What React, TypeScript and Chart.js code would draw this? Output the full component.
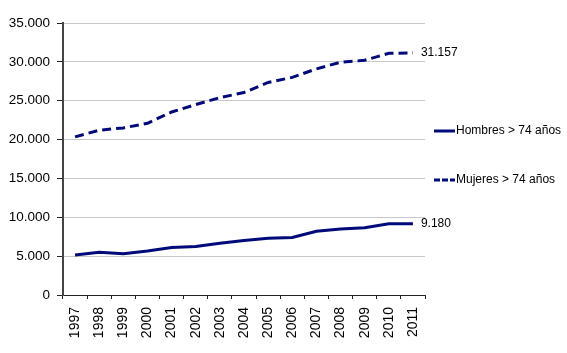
import React, { useEffect, useRef } from "react";
import { Chart, registerables } from "chart.js";

Chart.register(...registerables);

const years = ["1997", "1998", "1999", "2000", "2001", "2002", "2003", "2004", "2005", "2006", "2007", "2008", "2009", "2010", "2011"];
const hombres = [5150, 5500, 5300, 5650, 6100, 6250, 6650, 7000, 7300, 7400, 8200, 8500, 8650, 9180, 9180];
const mujeres = [20350, 21200, 21500, 22100, 23550, 24500, 25400, 26050, 27350, 28000, 29100, 29950, 30200, 31100, 31157];
const seriesNames = ["Hombres > 74 años", "Mujeres > 74 años"];
const yMin = 0;
const yMax = 35000;
const yStep = 5000;

const LINE_COLOR = "#000a78";
const FONT = "'Liberation Sans', Arial, sans-serif";

function fmt(v: number): string {
  const s = Math.round(v).toString();
  return s.replace(/\B(?=(\d{3})+(?!\d))/g, ".");
}

const overlayPlugin = {
  id: "overlay",
  afterDraw(chart: any) {
    const ctx = chart.ctx;
    const xs = chart.scales.x;
    const ys = chart.scales.y;
    const area = chart.chartArea;
    ctx.save();
    ctx.font = `12px ${FONT}`;
    ctx.fillStyle = "#000";
    ctx.textBaseline = "middle";
    ctx.textAlign = "left";
    // end labels
    const last = years.length - 1;
    const xl = xs.getPixelForValue(last);
    ctx.fillText(fmt(mujeres[last]), xl + 8, ys.getPixelForValue(mujeres[last]));
    ctx.fillText(fmt(hombres[last]), xl + 8, ys.getPixelForValue(hombres[last]));
    // legend
    const lx = area.right + 9;
    const items = [
      { name: seriesNames[0], y: 131, dash: [] as number[] },
      { name: seriesNames[1], y: 180, dash: [6, 2] },
    ];
    for (const it of items) {
      ctx.strokeStyle = LINE_COLOR;
      ctx.lineWidth = 3;
      ctx.setLineDash(it.dash);
      ctx.beginPath();
      ctx.moveTo(lx, it.y);
      ctx.lineTo(lx + 21, it.y);
      ctx.stroke();
      ctx.setLineDash([]);
      ctx.fillText(it.name, lx + 22, it.y);
    }
    ctx.restore();
  },
};

export default function App() {
  const ref = useRef<HTMLCanvasElement | null>(null);
  useEffect(() => {
    if (!ref.current) return;
    const chart = new Chart(ref.current, {
      type: "line",
      data: {
        labels: years,
        datasets: [
          {
            label: seriesNames[0],
            data: hombres,
            borderColor: LINE_COLOR,
            borderWidth: 3,
            pointRadius: 0,
            tension: 0,
          },
          {
            label: seriesNames[1],
            data: mujeres,
            borderColor: LINE_COLOR,
            borderWidth: 3,
            borderDash: [9, 5],
            pointRadius: 0,
            tension: 0,
          },
        ],
      },
      options: {
        responsive: false,
        animation: false,
        layout: { padding: { top: 23, right: 142, left: 0, bottom: 0 } },
        plugins: { legend: { display: false }, tooltip: { enabled: false } },
        scales: {
          x: {
            offset: true,
            grid: { offset: true, drawOnChartArea: false, drawTicks: true, tickLength: 4, tickColor: "#222" },
            border: { color: "#222", width: 1 },
            ticks: {
              color: "#000",
              font: { family: FONT, size: 14 },
              minRotation: 90,
              maxRotation: 90,
              padding: 8,
              autoSkip: false,
            },
            afterFit: (s: any) => {
              s.height = 58;
            },
          },
          y: {
            min: yMin,
            max: yMax,
            grid: { color: "#c8c8c8", lineWidth: 1, tickLength: 6, tickColor: "#222" },
            border: { color: "#444", width: 2 },
            ticks: {
              stepSize: yStep,
              color: "#000",
              font: { family: FONT, size: 13.5 },
              padding: 7,
              callback: (v: any) => fmt(Number(v)),
            },
            afterFit: (s: any) => {
              s.width = 63;
            },
          },
        },
      },
      plugins: [overlayPlugin],
    });
    return () => chart.destroy();
  }, []);
  return (
    <div style={{ position: "fixed", left: 0, top: 0, width: 567, height: 353, background: "#fff" }}>
      <canvas ref={ref} width={567} height={353} style={{ display: "block" }} />
    </div>
  );
}
